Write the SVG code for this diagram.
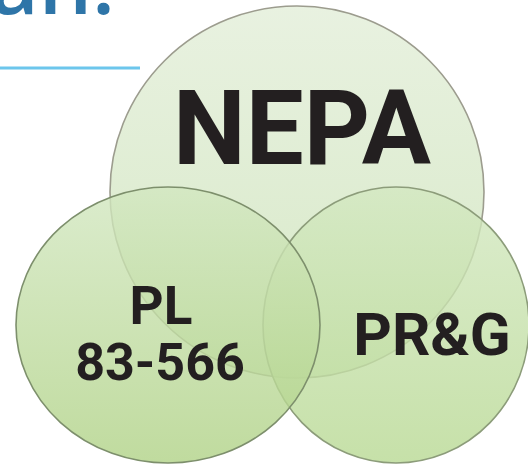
<svg xmlns="http://www.w3.org/2000/svg" width="528" height="466" viewBox="0 0 528 466">
  <defs>
    <linearGradient id="gNepa" x1="0" y1="0" x2="0" y2="1">
      <stop offset="0" stop-color="#e6f0dd"/>
      <stop offset="1" stop-color="#d2e6c0"/>
    </linearGradient>
    <linearGradient id="gPl" x1="0" y1="0" x2="0" y2="1">
      <stop offset="0" stop-color="#d2e7c0"/>
      <stop offset="1" stop-color="#b0d286"/>
    </linearGradient>
    <linearGradient id="gPrg" x1="0" y1="0" x2="0" y2="1">
      <stop offset="0" stop-color="#d3e8c1"/>
      <stop offset="1" stop-color="#b8d993"/>
    </linearGradient>
  </defs>
  <style>
    .circ { stroke-width: 1.6; }
    .lbl { font-family: Roboto, "Liberation Sans", Arial, sans-serif; font-weight: bold; fill: #231f20; text-anchor: middle; }
  </style>
  <rect width="528" height="466" fill="#ffffff"/>
  <text x="-10" y="14" font-family="'Open Sans', 'Liberation Sans', sans-serif" font-weight="600" font-size="84" fill="#2e75a8">an.</text>
  <line x1="0" y1="68" x2="140" y2="68" stroke="#6cc6ec" stroke-width="3"/>
  <g id="nepa">
    <ellipse class="circ" cx="297" cy="192" rx="187" ry="186" fill="url(#gNepa)" fill-opacity="0.9" stroke="#9c9c8e"/>
  </g>
  <g id="prg">
    <ellipse class="circ" cx="396" cy="325" rx="133" ry="138" fill="url(#gPrg)" fill-opacity="0.8" stroke="#8c9c7a"/>
  </g>
  <g id="pl">
    <ellipse class="circ" cx="168" cy="325" rx="152" ry="138" fill="url(#gPl)" fill-opacity="0.8" stroke="#7d8f6c"/>
  </g>
  <g id="labels">
    <text class="lbl" x="302" y="164" font-size="103">NEPA</text>
    <text class="lbl" x="161" y="324" font-size="53">PL</text>
    <text class="lbl" x="160" y="380" font-size="52">83-566</text>
    <text class="lbl" x="432" y="355" font-size="60">PR&amp;G</text>
  </g>
</svg>
